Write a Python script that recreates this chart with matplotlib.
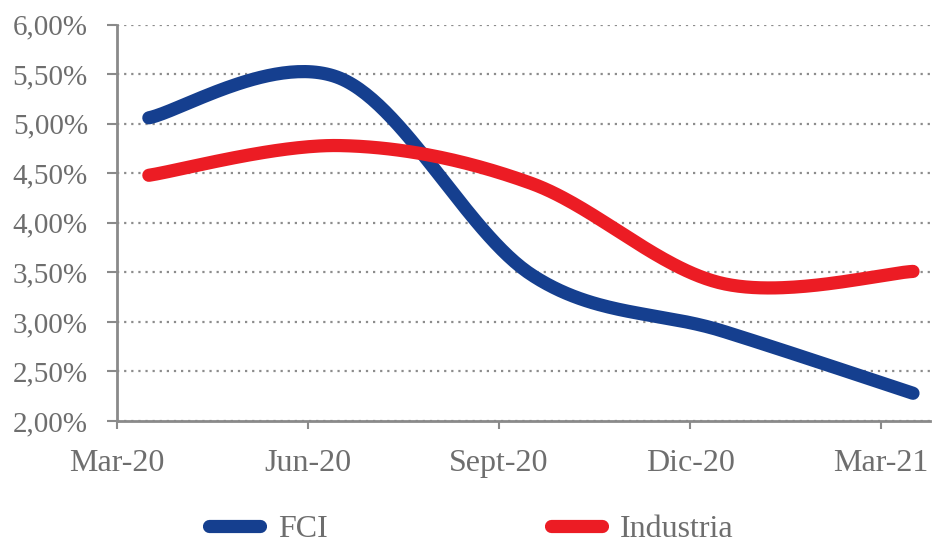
import matplotlib
matplotlib.use("Agg")
import matplotlib.pyplot as plt
import numpy as np
from matplotlib.ticker import FuncFormatter

# data
labels = ["Mar-20", "Jun-20", "Sept-20", "Dic-20", "Mar-21"]
month_pos = [0.5, 3.5, 6.5, 9.5, 12.5]   # mid-month of each quarter-end month
tick_pos = [0, 3, 6, 9, 12]
fci = [5.06, 5.46, 3.48, 2.91, 2.28]
industria = [4.48, 4.78, 4.40, 3.39, 3.51]

BLUE = "#153F8F"
RED = "#EC1C24"
GREY = "#6E6E6E"
AXIS = "#8A8A8A"


def smooth(x, y, n=60):
    # Excel-style smoothed line: cubic bezier with catmull-rom control points
    x = np.asarray(x, float)
    y = np.asarray(y, float)
    px = np.concatenate([[x[0]], x, [x[-1]]])
    py = np.concatenate([[y[0]], y, [y[-1]]])
    t = np.linspace(0, 1, n)
    xs, ys = [], []
    for i in range(1, len(px) - 2):
        p0 = np.array([px[i], py[i]])
        p3 = np.array([px[i + 1], py[i + 1]])
        c1 = p0 + (np.array([px[i + 1], py[i + 1]]) - np.array([px[i - 1], py[i - 1]])) / 6
        c2 = p3 - (np.array([px[i + 2], py[i + 2]]) - np.array([px[i], py[i]])) / 6
        b = ((1 - t) ** 3)[:, None] * p0 + (3 * (1 - t) ** 2 * t)[:, None] * c1 \
            + (3 * (1 - t) * t ** 2)[:, None] * c2 + (t ** 3)[:, None] * p3
        xs.append(b[:, 0])
        ys.append(b[:, 1])
    return np.concatenate(xs), np.concatenate(ys)


plt.rcParams["font.family"] = ["Liberation Serif", "DejaVu Serif"]

fig = plt.figure(figsize=(9.33, 5.45), dpi=100)
ax = fig.add_axes([0.1254, 0.2275, 0.8716, 0.7272])

for vals, color, name in [(fci, BLUE, "FCI"), (industria, RED, "Industria")]:
    sx, sy = smooth(month_pos, vals)
    ax.plot(sx, sy, color=color, lw=9.5, solid_capstyle="round", label=name, zorder=3)

ax.set_xlim(0, 12.77)
ax.set_ylim(2.0, 6.0)
ax.set_yticks(np.arange(2.0, 6.01, 0.5))
ax.yaxis.set_major_formatter(FuncFormatter(lambda v, p: f"{v:.2f}%".replace(".", ",")))
ax.set_xticks(tick_pos)
ax.set_xticklabels(labels)

ax.grid(axis="y", color="#8C8C8C", linestyle=(0, (1, 2.2)), linewidth=1.6, zorder=1)
for s in ["top", "right"]:
    ax.spines[s].set_visible(False)
for s in ["left", "bottom"]:
    ax.spines[s].set_color(AXIS)
    ax.spines[s].set_linewidth(2)
ax.spines["left"].set_zorder(4)

ax.tick_params(axis="y", colors=AXIS, length=7, width=1.5, labelsize=21, labelcolor=GREY, pad=14)
ax.tick_params(axis="x", colors=AXIS, length=6, width=1.5, labelsize=23, labelcolor=GREY, pad=14)
ax.set_axisbelow(True)

leg = fig.legend(loc="center", bbox_to_anchor=(0.505, 0.028), ncol=2, frameon=False,
                 fontsize=23, handlelength=1.6, handletextpad=0.55, columnspacing=7.0)
for t in leg.get_texts():
    t.set_color(GREY)

fig.savefig("out.png", dpi=100)
